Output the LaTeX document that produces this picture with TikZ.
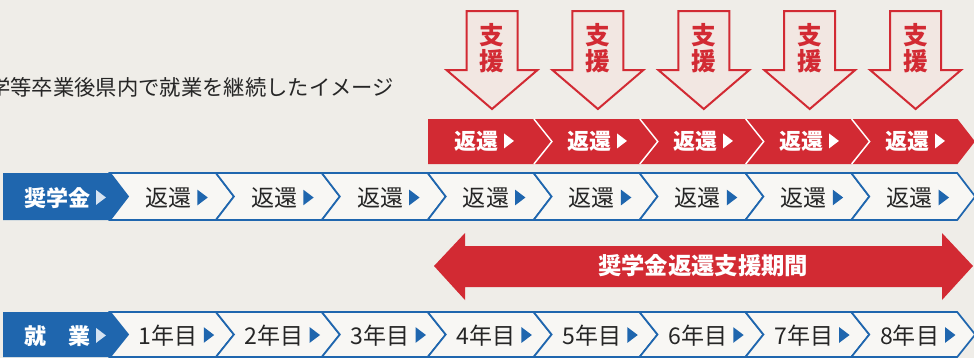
\documentclass[tikz,border=0pt]{standalone}
\usepackage{fontspec}
\newfontfamily\jp{Noto Sans CJK JP}
\usetikzlibrary{positioning}

\definecolor{paper}{HTML}{EFEDE8}
\definecolor{cellwhite}{HTML}{F8F7F4}
\definecolor{kenblue}{HTML}{1F66AE}
\definecolor{kenred}{HTML}{D22A33}
\definecolor{arrowpink}{HTML}{F2E7E2}
\definecolor{ink}{HTML}{262626}
\definecolor{headtri}{HTML}{D6E3F1}

% small triangle after each label
\newcommand{\tri}[1]{\hspace{4.5pt}\tikz[baseline=0pt]\fill[#1] (0pt,0.05em) -- (0.45em,0.39em) -- (0pt,0.73em) -- cycle;}

\begin{document}
\begin{tikzpicture}[
        x=0.75pt, y=-0.75pt,
        cell/.style={fill=cellwhite, draw=kenblue, line width=1.3pt},
        head/.style={fill=kenblue},
        celltext/.style={anchor=base, inner sep=0pt, text=ink, font=\jp\fontsize{17.3}{20}\selectfont},
        headtext/.style={anchor=base, inner sep=0pt, text=white, font=\jp\bfseries\fontsize{16.5}{20}\selectfont},
        support/.style={fill=arrowpink, draw=kenred, line width=1.5pt},
        supporttext/.style={anchor=base, inner sep=0pt, text=kenred, font=\jp\bfseries\fontsize{18.5}{20}\selectfont}
    ]
    \clip (0,0) rectangle (974,358);
    \fill[paper] (0,0) rectangle (974,358);

    \node[anchor=base west, inner sep=0pt, text=ink, font=\jp\fontsize{16}{20}\selectfont] (title) at (-11,95) {学等卒業後県内で就業を継続したイメージ};

    % blue rows
    \foreach \t/\b in {173/220, 312/357} {
        \pgfmathsetmacro\m{(\t+\b)/2}
        \foreach \k in {0,...,7} {
            \pgfmathsetmacro\bx{110+105.9*\k}
            \draw[cell] (\bx,\t) -- (\bx+105.9,\t) -- (\bx+123.9,\m) -- (\bx+105.9,\b) -- (\bx,\b) -- (\bx+18,\m) -- cycle;
        }
        \fill[head] (3,\t) -- (110,\t) -- (128,\m) -- (110,\b) -- (3,\b) -- cycle;
    }
    \node[headtext] (loan) at (65,206) {奨学金\tri{headtri}};
    \node[headtext] (work) at (65,344) {就　業\tri{headtri}};
    \foreach \k in {1,...,8} {
        \node[celltext] (loan\k) at (70.6+105.9*\k,206.5) {返還\tri{kenblue}};
        \node[celltext] (work\k) at (70.6+105.9*\k,344) {\k 年目\tri{kenblue}};
    }

    % red row
    \fill[kenred] (428,119) -- (957.5,119) -- (975,141.5) -- (957.5,164) -- (428,164) -- cycle;
    \foreach \k in {1,...,4}
        \draw[white, line width=1.1pt] (428+105.9*\k,119) -- (446+105.9*\k,141.5) -- (428+105.9*\k,164);
    \foreach \k/\x in {1/484, 2/597, 3/703, 4/809, 5/915}
        \node[headtext] (repay\k) at (\x,149.5) {返還\tri{white}};

    % support arrows
    \foreach \k in {1,...,5} {
        \pgfmathsetmacro\c{386.1+105.9*\k}
        \draw[support] (\c-25.5,11) -- (\c+25.5,11) -- (\c+25.5,70) -- (\c+45.5,70) -- (\c,109) -- (\c-45.5,70) -- (\c-25.5,70) -- cycle;
        \node[supporttext] (shi\k) at (\c,44.5) {支};
        \node[supporttext] (en\k) at (\c,70) {援};
    }

    % support period
    \fill[kenred] (434,266) -- (465,233) -- (465,246) -- (942,246) -- (942,233) -- (973,266) -- (942,300) -- (942,287) -- (465,287) -- (465,300) -- cycle;
    \node[headtext, font=\jp\bfseries\fontsize{17.5}{20}\selectfont] (period) at (703,274.5) {奨学金返還支援期間};
\end{tikzpicture}
\end{document}
